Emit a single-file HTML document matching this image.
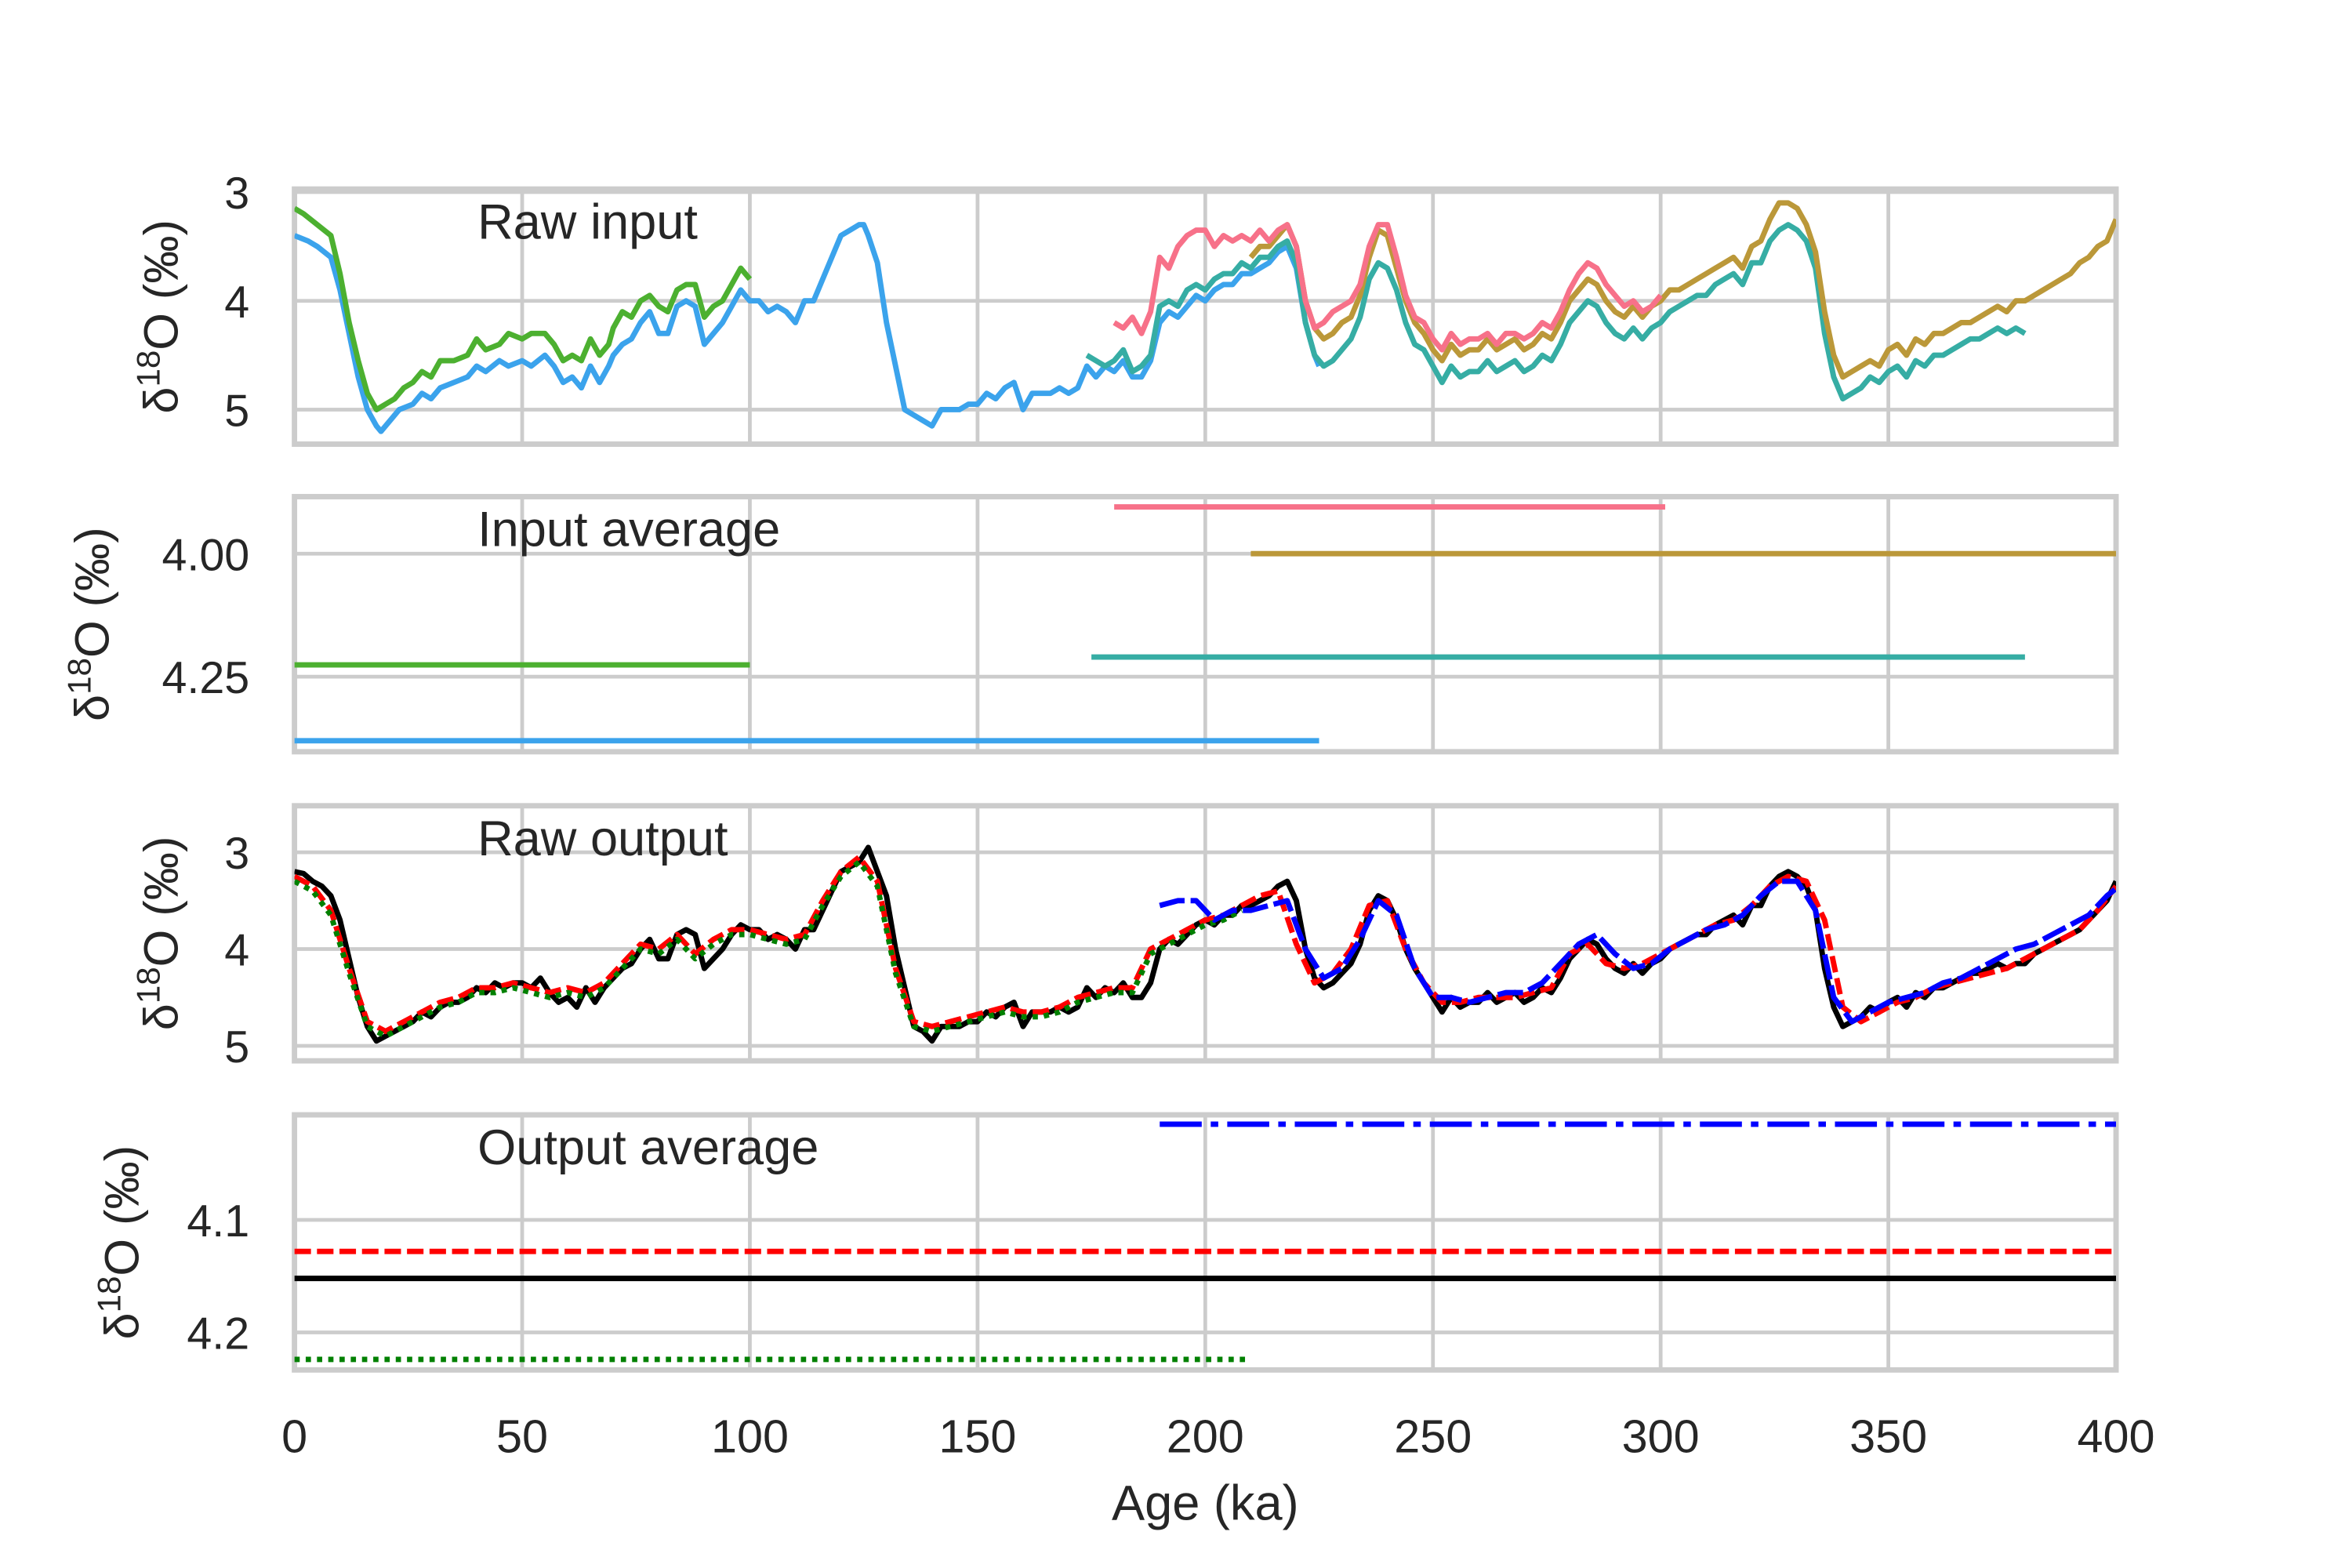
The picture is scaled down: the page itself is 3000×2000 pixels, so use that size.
<!DOCTYPE html>
<html><head><meta charset="utf-8">
<style>
html,body{margin:0;padding:0;background:#fff;}
svg{display:block;}
text{font-family:"Liberation Sans",sans-serif;fill:#262626;}
</style></head>
<body>
<svg id="chart" xmlns="http://www.w3.org/2000/svg" width="3000" height="2000" viewBox="0 0 1567 1045">
<rect width="1567" height="1045" fill="#fff"/>
</svg>
<script>
// ---- data ----
const xTicks = [0,50,100,150,200,250,300,350,400];
const blueInAges = [0,3,5,8,10,12,14,16,18,19,21,23,26,28,30,32,35,38,40,42,45,47,50,52,55,57,59,61,63,65,67,69,70,72,74,76,78,80,82,84,86,88,90,92,94,96,98,100,102,104,106,108,110,112,114,116,118,120,122,124,125,126,128,130,132,134,136,138,140,142,144,146,148,150,152,154,156,158,160,162,164,166,168,170,172,174,176,178,180,182,184,186,188,190,192,194,196,198,200,202,204,206,208,210,212,214,216,218,220,222,224,225];
const blueInVals = [3.4,3.45,3.5,3.6,3.9,4.3,4.7,5.0,5.15,5.2,5.1,5.0,4.95,4.85,4.9,4.8,4.75,4.7,4.6,4.65,4.55,4.6,4.55,4.6,4.5,4.6,4.75,4.7,4.8,4.6,4.75,4.6,4.5,4.4,4.35,4.2,4.1,4.3,4.3,4.05,4.0,4.05,4.4,4.3,4.2,4.05,3.9,4.0,4.0,4.1,4.05,4.1,4.2,4.0,4.0,3.8,3.6,3.4,3.35,3.3,3.3,3.4,3.65,4.2,4.6,5.0,5.05,5.1,5.15,5.0,5.0,5.0,4.95,4.95,4.85,4.9,4.8,4.75,5.0,4.85,4.85,4.85,4.8,4.85,4.8,4.6,4.7,4.6,4.65,4.55,4.7,4.7,4.55,4.2,4.1,4.15,4.05,3.95,4.0,3.9,3.85,3.85,3.75,3.75,3.7,3.65,3.55,3.5,3.7,4.2,4.5,4.6];
const greenInAges = [0,2,5,8,10,12,14,16,18,20,22,24,26,28,30,32,35,38,40,42,45,47,50,52,55,57,59,61,63,65,67,69,70,72,74,76,78,80,82,84,86,88,90,92,94,96,98,100];
const greenInVals = [3.15,3.2,3.3,3.4,3.75,4.2,4.55,4.85,5.0,4.95,4.9,4.8,4.75,4.65,4.7,4.55,4.55,4.5,4.35,4.45,4.4,4.3,4.35,4.3,4.3,4.4,4.55,4.5,4.55,4.35,4.5,4.4,4.25,4.1,4.15,4.0,3.95,4.05,4.1,3.9,3.85,3.85,4.15,4.05,4.0,3.85,3.7,3.8];
const tealInStart = 174, tealInStep = 2;
const tealInVals = [4.5,4.55,4.6,4.55,4.45,4.65,4.6,4.5,4.05,4.0,4.05,3.9,3.85,3.9,3.8,3.75,3.75,3.65,3.7,3.6,3.6,3.5,3.45,3.65,4.2,4.5,4.6,4.55,4.45,4.35,4.15,3.8,3.65,3.7,3.9,4.2,4.4,4.45,4.6,4.75,4.6,4.7,4.65,4.65,4.55,4.65,4.6,4.55,4.65,4.6,4.5,4.55,4.4,4.2,4.1,4.0,4.05,4.2,4.3,4.35,4.25,4.35,4.25,4.2,4.1,4.05,4.0,3.95,3.95,3.85,3.8,3.75,3.85,3.65,3.65,3.45,3.35,3.3,3.35,3.45,3.7,4.3,4.7,4.9,4.85,4.8,4.7,4.75,4.65,4.6,4.7,4.55,4.6,4.5,4.5,4.45,4.4,4.35,4.35,4.3,4.25,4.3,4.25,4.3];
const goldInStart = 210, goldInStep = 2;
const goldInVals = [3.6,3.5,3.5,3.4,3.3,3.5,4.0,4.25,4.35,4.3,4.2,4.15,3.95,3.6,3.35,3.4,3.7,4.0,4.2,4.3,4.45,4.55,4.4,4.5,4.45,4.45,4.35,4.45,4.4,4.35,4.45,4.4,4.3,4.35,4.2,4.0,3.9,3.8,3.85,4.0,4.1,4.15,4.05,4.15,4.05,4.0,3.9,3.9,3.85,3.8,3.75,3.7,3.65,3.6,3.7,3.5,3.45,3.25,3.1,3.1,3.15,3.3,3.55,4.1,4.5,4.7,4.65,4.6,4.55,4.6,4.45,4.4,4.5,4.35,4.4,4.3,4.3,4.25,4.2,4.2,4.15,4.1,4.05,4.1,4.0,4.0,3.95,3.9,3.85,3.8,3.75,3.65,3.6,3.5,3.45,3.25];
const pinkInStart = 180, pinkInStep = 2;
const pinkInVals = [4.2,4.25,4.15,4.3,4.1,3.6,3.7,3.5,3.4,3.35,3.35,3.5,3.4,3.45,3.4,3.45,3.35,3.45,3.35,3.3,3.5,4.0,4.25,4.2,4.1,4.05,4.0,3.85,3.5,3.3,3.3,3.6,3.95,4.15,4.2,4.35,4.45,4.3,4.4,4.35,4.35,4.3,4.4,4.3,4.3,4.35,4.3,4.2,4.25,4.1,3.9,3.75,3.65,3.7,3.85,3.95,4.05,4.0,4.1,4.05,3.95];
// input averages [value, start, end]
const avgPink = [3.905,180,301], avgGold=[4.0,210,400], avgGreen=[4.226,0,100], avgTeal=[4.21,175,380], avgBlue=[4.38,0,225];
// raw output
const blackStart = 0, blackStep = 2;
const blackVals = [3.2,3.22,3.3,3.35,3.45,3.7,4.1,4.5,4.8,4.95,
4.9,4.85,4.8,4.75,4.65,4.7,4.6,4.55,4.55,4.5,
4.4,4.45,4.35,4.4,4.35,4.35,4.4,4.3,4.45,4.55,
4.5,4.6,4.4,4.55,4.4,4.3,4.2,4.15,4.0,3.9,
4.1,4.1,3.85,3.8,3.85,4.2,4.1,4.0,3.85,3.75,
3.8,3.8,3.9,3.85,3.9,4.0,3.8,3.8,3.6,3.4,
3.2,3.15,3.1,2.95,3.2,3.45,4.0,4.4,4.8,4.85,
4.95,4.8,4.8,4.8,4.75,4.75,4.65,4.7,4.6,4.55,
4.8,4.65,4.65,4.65,4.6,4.65,4.6,4.4,4.5,4.4,
4.45,4.35,4.5,4.5,4.35,4.0,3.9,3.95,3.85,3.75,
3.7,3.75,3.65,3.65,3.55,3.55,3.5,3.45,3.35,3.3,
3.5,4.0,4.3,4.4,4.35,4.25,4.15,3.95,3.6,3.45,
3.5,3.7,4.0,4.2,4.35,4.5,4.65,4.5,4.6,4.55,
4.55,4.45,4.55,4.5,4.45,4.55,4.5,4.4,4.45,4.3,
4.1,4.0,3.9,3.95,4.1,4.2,4.25,4.15,4.25,4.15,
4.1,4.0,3.95,3.9,3.85,3.85,3.75,3.7,3.65,3.75,
3.55,3.55,3.35,3.25,3.2,3.25,3.35,3.6,4.2,4.6,
4.8,4.75,4.7,4.6,4.65,4.55,4.5,4.6,4.45,4.5,
4.4,4.4,4.35,4.3,4.25,4.25,4.2,4.15,4.2,4.15,
4.15,4.05,4.0,3.95,3.9,3.85,3.8,3.7,3.6,3.5,
3.3];
const redStart = 0, redStep = 4;
const redVals = [3.25,3.35,3.6,4.2,4.75,4.85,4.75,4.65,4.55,4.5,
4.4,4.4,4.35,4.4,4.45,4.4,4.45,4.35,4.15,3.95,
4.0,3.85,4.05,3.9,3.8,3.8,3.85,3.9,3.85,3.5,
3.2,3.05,3.3,4.2,4.75,4.8,4.75,4.7,4.65,4.6,
4.65,4.65,4.6,4.5,4.45,4.4,4.4,4.0,3.9,3.8,
3.7,3.65,3.55,3.45,3.4,3.95,4.35,4.25,4.0,3.55,
3.5,4.0,4.35,4.55,4.55,4.5,4.5,4.5,4.45,4.4,
4.05,3.95,4.15,4.2,4.15,4.05,3.95,3.85,3.75,3.7,
3.55,3.35,3.25,3.3,3.7,4.6,4.75,4.65,4.55,4.5,
4.4,4.35,4.3,4.25,4.2,4.1,4.0,3.9,3.8,3.6,
3.35];
const greenOutStart = 0, greenOutStep = 4;
const greenOutVals = [3.3,3.4,3.65,4.25,4.8,4.9,4.8,4.7,4.6,4.55,
4.45,4.45,4.4,4.45,4.5,4.45,4.5,4.4,4.2,4.0,
4.05,3.9,4.1,3.95,3.85,3.85,3.9,3.95,3.9,3.55,
3.25,3.1,3.35,4.25,4.8,4.85,4.8,4.75,4.7,4.65,
4.7,4.7,4.65,4.55,4.5,4.45,4.45,4.05,3.95,3.85,
3.75,3.7,3.6];
const blueOutStart = 190, blueOutStep = 4;
const blueOutVals = [3.55,3.5,3.5,3.7,3.6,3.6,3.55,3.5,4.0,4.3,4.2,3.9,3.5,3.65,4.2,4.5,4.5,4.55,4.5,4.45,4.45,4.35,4.15,3.95,3.85,4.05,4.2,4.15,4.0,3.9,3.8,3.75,3.65,3.45,3.3,3.3,3.6,4.5,4.75,4.65,4.55,4.5,4.45,4.35,4.3,4.2,4.1,4.0,3.95,3.85,3.75,3.65,3.45,3.3];
// output averages
const oavgBlue=[4.015,190,400], oavgRed=[4.128,0,400], oavgBlack=[4.152,0,400], oavgGreen=[4.224,0,210];

// ---- drawing ----
const svg = document.getElementById('chart');
const NS = 'http://www.w3.org/2000/svg';
const X0=196, X1=1410;
const xs = a => X0 + (a/400)*(X1-X0);
const panels = [
 {top:126,bot:296,v0:3,y0:128,k:72.5,ticks:[3,4,5],fmt:v=>String(v),title:'Raw input',lx:118},
 {top:331,bot:501,v0:4,y0:369,k:328,ticks:[4.0,4.25],fmt:v=>v.toFixed(2),title:'Input average',lx:72},
 {top:537,bot:707,v0:3,y0:568,k:64.5,ticks:[3,4,5],fmt:v=>String(v),title:'Raw output',lx:118},
 {top:743,bot:913,v0:4.1,y0:813,k:750,ticks:[4.1,4.2],fmt:v=>v.toFixed(1),title:'Output average',lx:92}
];
function el(tag, attrs, parent){const e=document.createElementNS(NS,tag);for(const k in attrs)e.setAttribute(k,attrs[k]);(parent||svg).appendChild(e);return e;}
const defs = el('defs',{});
panels.forEach((p,i)=>{
  p.ys = v => p.y0 + (v-p.v0)*p.k;
  const cp = el('clipPath',{id:'clip'+i},defs);
  el('rect',{x:X0,y:p.top,width:X1-X0,height:p.bot-p.top},cp);
  const g = el('g',{});
  
  
  p.g = g;
  xTicks.forEach(t=>{
    const l = el('line',{x1:xs(t),x2:xs(t),y1:p.top,y2:p.bot,stroke:'#cccccc','stroke-width':2.5},g);
    
    
  });
  p.ticks.forEach(t=>{
    const y=p.ys(t);
    const l = el('line',{x1:X0,x2:X1,y1:y,y2:y,stroke:'#cccccc','stroke-width':2.5},g);
    
    
    const tx = el('text',{x:166,y:y+11,'text-anchor':'end','font-size':30},g);
    tx.textContent = p.fmt(t);
    
    
  });
  const fr = el('rect',{x:X0,y:p.top,width:X1-X0,height:p.bot-p.top,fill:'none',stroke:'#cccccc','stroke-width':3.6},g);
  
  
  const cy=(p.top+p.bot)/2;
  const yl = el('text',{x:p.lx,y:cy,'text-anchor':'middle','font-size':32,transform:`rotate(-90 ${p.lx} ${cy})`},g);
  yl.innerHTML = 'δ<tspan font-size="22" dy="-12">18</tspan><tspan dy="12">O (‰)</tspan>';
  
  
  const tt = el('text',{x:318,y:p.top+33,'font-size':33},g);
  tt.textContent = p.title;
  
  
});
function series(pi, ages, vals, color, name, dash, w){
  const p=panels[pi];
  const d = vals.map((v,i)=>(i?'L':'M')+xs(ages[i]).toFixed(2)+' '+p.ys(v).toFixed(2)).join(' ');
  const attrs={d:d,fill:'none',stroke:color,'stroke-width':w||3.6,'stroke-linejoin':'round','clip-path':`url(#clip${pi})`};
  if(dash) attrs['stroke-dasharray']=dash;
  const path = el('path',attrs,p.g);
  
  
}
const grid=(start,step,n)=>Array.from({length:n},(_,i)=>start+i*step);
function hline(pi, spec, color, name, dash){
  series(pi,[spec[1],spec[2]],[spec[0],spec[0]],color,name,dash);
}
// panel 1
series(0,blueInAges,blueInVals,'#3ba3ec','raw-input-blue');
series(0,greenInAges,greenInVals,'#4cb030','raw-input-green');
series(0,grid(tealInStart,tealInStep,tealInVals.length),tealInVals,'#36ada4','raw-input-teal');
series(0,grid(goldInStart,goldInStep,goldInVals.length),goldInVals,'#bb9839','raw-input-gold');
series(0,grid(pinkInStart,pinkInStep,pinkInVals.length),pinkInVals,'#f77189','raw-input-pink');
// panel 2
hline(1,avgPink,'#f77189','input-average-pink');
hline(1,avgGold,'#bb9839','input-average-gold');
hline(1,avgGreen,'#4cb030','input-average-green');
hline(1,avgTeal,'#36ada4','input-average-teal');
hline(1,avgBlue,'#3ba3ec','input-average-blue');
// panel 3
series(2,grid(blackStart,blackStep,blackVals.length),blackVals,'#000000','raw-output-black');
series(2,grid(redStart,redStep,redVals.length),redVals,'#ff0000','raw-output-red','11 4');
series(2,grid(greenOutStart,greenOutStep,greenOutVals.length),greenOutVals,'#008000','raw-output-green','3.5 4');
series(2,grid(blueOutStart,blueOutStep,blueOutVals.length),blueOutVals,'#0000ff','raw-output-blue','17 4');
// panel 4
hline(3,oavgBlue,'#0000ff','output-average-blue','28 6 5 6');
hline(3,oavgRed,'#ff0000','output-average-red','11 4');
hline(3,oavgBlack,'#000000','output-average-black');
hline(3,oavgGreen,'#008000','output-average-green','3.5 4');
// x axis
xTicks.forEach(t=>{
  const tx = el('text',{x:xs(t),y:968,'text-anchor':'middle','font-size':31});
  tx.textContent = String(t);
  
  
});
const xl = el('text',{x:803,y:1013,'text-anchor':'middle','font-size':33});
xl.textContent='Age (ka)';


</script>
</body></html>
